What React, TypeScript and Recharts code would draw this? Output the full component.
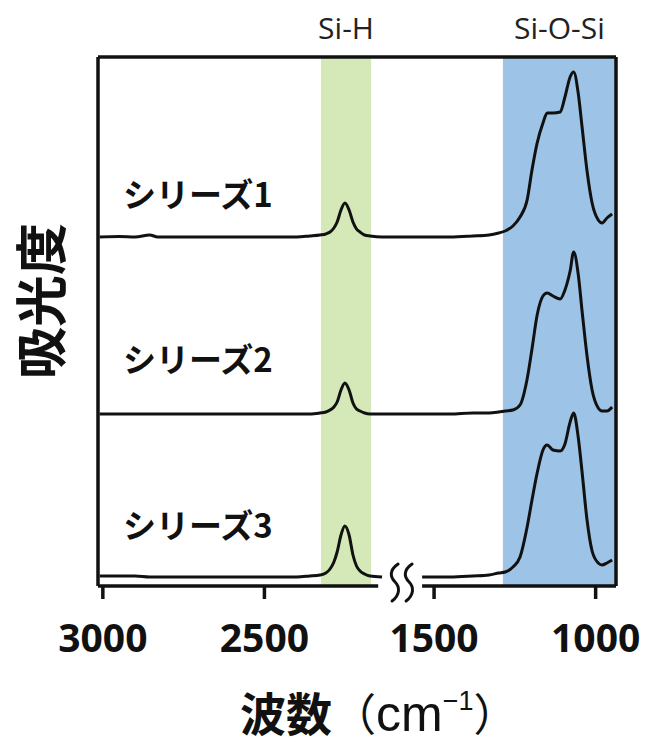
import {
  LineChart,
  Line,
  XAxis,
  YAxis,
  ReferenceArea,
  ReferenceLine,
  ReferenceDot,
} from 'recharts';

// wavenumbers (cm-1); the axis is broken between 2136 and 1537
const wavenumbers = [
  3010, 2950, 2900, 2855, 2830, 2700, 2600, 2500, 2400, 2360, 2328, 2310, 2297, 2285, 2275,
  2263, 2251, 2238, 2226, 2215, 2204, 2190, 2173, 2136,
  1537, 1450, 1380, 1330, 1300, 1280, 1256, 1234, 1212, 1197, 1181, 1163, 1150, 1132, 1110,
  1095, 1079, 1068, 1054, 1042, 1027, 1011, 992, 980, 965, 949,
];

// absorbance above each spectrum's own baseline
const series1 = [
  0, 0.005, 0, 0.02, 0, 0, 0, 0, 0, 0.01, 0.02, 0.03, 0.05, 0.09, 0.15,
  0.27, 0.34, 0.27, 0.15, 0.08, 0.05, 0.02, 0.01, 0,
  0, 0, 0.01, 0.02, 0.04, 0.06, 0.11, 0.2, 0.37, 0.67, 0.94, 1.14, 1.24, 1.24, 1.25,
  1.4, 1.6, 1.65, 1.44, 1.1, 0.67, 0.34, 0.17, 0.14, 0.19, 0.23,
];
const series2 = [
  0, 0, 0, 0, 0, 0, 0, 0, 0, 0, 0.01, 0.02, 0.04, 0.07, 0.12,
  0.24, 0.31, 0.24, 0.11, 0.05, 0.03, 0.01, 0, 0,
  0, 0, 0.01, 0.01, 0.02, 0.03, 0.04, 0.09, 0.35, 0.65, 0.99, 1.18, 1.21, 1.18, 1.15,
  1.24, 1.43, 1.62, 1.4, 1.03, 0.59, 0.24, 0.06, 0.03, 0.03, 0.07,
];
const series3 = [
  0.01, 0.01, 0.01, 0, 0, 0, 0, 0, 0, 0.01, 0.02, 0.04, 0.08, 0.15, 0.25,
  0.42, 0.51, 0.42, 0.22, 0.11, 0.06, 0.03, 0.01, 0,
  0, 0, 0.01, 0.02, 0.04, 0.05, 0.1, 0.2, 0.5, 0.77, 1.04, 1.27, 1.32, 1.27, 1.26,
  1.33, 1.55, 1.64, 1.4, 1.05, 0.58, 0.26, 0.14, 0.12, 0.14, 0.17,
];

// vertical stacking offsets
const offsets = [3.49, 1.72, 0.09];
const seriesNames = ['シリーズ1', 'シリーズ2', 'シリーズ3'];

const tickValues = [3000, 2500, 1500, 1000];

// broken axis: the 2136..1537 stretch is squeezed out
const BREAK_HI = 2000;
const SHIFT = 475;
const toX = (w: number) => (w >= BREAK_HI ? 3000 - w : 3000 - SHIFT - w);

const X_MIN = toX(3015);
const X_MAX = toX(937);
const GAP_X = (toX(2136) + toX(1537)) / 2;

const rows: any[] = wavenumbers.map((w, i) => ({
  x: toX(w),
  s1: series1[i] + offsets[0],
  s2: series2[i] + offsets[1],
  s3: series3[i] + offsets[2],
}));
const gapIndex = rows.findIndex((r) => r.x > GAP_X);
rows.splice(gapIndex, 0, { x: GAP_X, s1: null, s2: null, s3: null });

const xTicks = tickValues.map(toX);
const tickLabel = (v: number) => {
  const i = xTicks.indexOf(v);
  return i >= 0 ? String(tickValues[i]) : '';
};

const CJK = '"Noto Sans CJK JP", sans-serif';
const LATIN = '"Open Sans", sans-serif';
const ARIAL = '"Liberation Sans", Arial, sans-serif';

const XTick = (props: any) => {
  const { x, y, payload } = props;
  return (
    <text x={x} y={y} dy={51} textAnchor="middle" fontFamily={LATIN} fontWeight={700} fontSize={39} fill="#111">
      {tickLabel(payload.value)}
    </text>
  );
};

const Squiggle = (props: any) => {
  const { cx, cy } = props;
  const s = (x: number) =>
    `M${x + 3},${cy - 22} C${x - 6},${cy - 16} ${x - 5},${cy - 9} ${x},${cy - 4} C${x + 5},${cy + 1} ${x + 5},${cy + 9} ${x - 3},${cy + 15}`;
  return (
    <g>
      <path d={s(cx - 7)} fill="none" stroke="#111" strokeWidth={3} strokeLinecap="round" />
      <path d={s(cx + 7)} fill="none" stroke="#111" strokeWidth={3} strokeLinecap="round" />
    </g>
  );
};

const labelY = [207, 372, 538];

export default function App() {
  return (
    <div style={{ position: 'absolute', left: 0, top: 0, width: 646, height: 745, background: '#fff' }}>
      <LineChart
        width={646}
        height={745}
        data={rows}
        margin={{ top: 57, right: 30, bottom: 99, left: 98 }}
      >
        <ReferenceArea
          x1={toX(2325)}
          x2={toX(2170)}
          y1={0}
          y2={5.29}
          fill="#d5e8b7"
          fillOpacity={1}
          stroke="none"
          label={{ value: 'Si-H', position: 'top', offset: 18, fontFamily: LATIN, fontSize: 30, fill: '#222' }}
        />
        <ReferenceArea
          x1={toX(1287)}
          x2={X_MAX}
          y1={0}
          y2={5.29}
          fill="#9dc3e6"
          fillOpacity={1}
          stroke="none"
          label={{ value: 'Si-O-Si', position: 'top', offset: 18, fontFamily: LATIN, fontSize: 30, fill: '#222' }}
        />
        <XAxis
          type="number"
          dataKey="x"
          domain={[X_MIN, X_MAX]}
          ticks={xTicks}
          axisLine={false}
          tickLine={{ stroke: '#111', strokeWidth: 3.5 }}
          tickSize={13}
          tick={<XTick />}
          height={60}
          allowDataOverflow
        />
        <YAxis type="number" domain={[0, 5.29]} hide />
        <Line type="monotone" dataKey="s1" stroke="#111" strokeWidth={3} dot={false} connectNulls isAnimationActive={false} />
        <Line type="monotone" dataKey="s2" stroke="#111" strokeWidth={3} dot={false} connectNulls isAnimationActive={false} />
        <Line type="monotone" dataKey="s3" stroke="#111" strokeWidth={3} dot={false} connectNulls={false} isAnimationActive={false} />
        <ReferenceLine x={X_MIN} stroke="#111" strokeWidth={3.5} />
        <ReferenceLine x={X_MAX} stroke="#111" strokeWidth={3.5} />
        <ReferenceLine y={5.29} stroke="#111" strokeWidth={3.5} />
        <ReferenceLine segment={[{ x: X_MIN, y: 0 }, { x: toX(2148), y: 0 }]} stroke="#111" strokeWidth={3.5} />
        <ReferenceLine segment={[{ x: toX(1537), y: 0 }, { x: X_MAX, y: 0 }]} stroke="#111" strokeWidth={3.5} />
        <ReferenceDot x={GAP_X} y={0} shape={<Squiggle />} />
      </LineChart>
      <svg
        width={646}
        height={745}
        style={{ position: 'absolute', left: 0, top: 0, pointerEvents: 'none' }}
      >
        {seriesNames.map((name, i) => (
          <text key={name} x={123} y={labelY[i]} fontFamily={CJK} fontWeight={700} fontSize={33} fill="#111">
            {name}
          </text>
        ))}
        <text
          x={38}
          y={301}
          transform="rotate(-90 38 301)"
          textAnchor="middle"
          dominantBaseline="central"
          fontFamily={CJK}
          fontWeight={700}
          fontSize={52}
          fill="#111"
        >
          吸光度
        </text>
        <text x={240} y={731} fontFamily={CJK} fontSize={44} fill="#111">
          <tspan fontWeight={700} fontSize={46}>波数</tspan>
          <tspan>（</tspan>
          <tspan fontFamily={ARIAL} fontSize={50}>cm</tspan>
          <tspan fontFamily={ARIAL} fontSize={27} dy={-21}>−1</tspan>
          <tspan dy={21}>）</tspan>
        </text>
      </svg>
    </div>
  );
}
